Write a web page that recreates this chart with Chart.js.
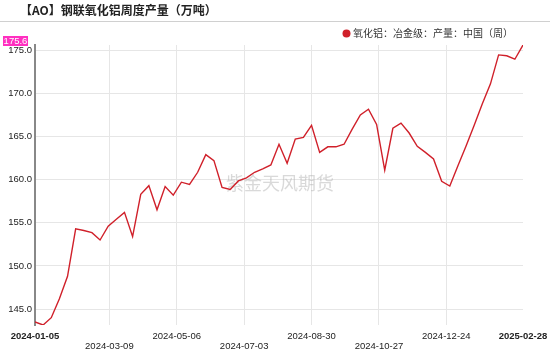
<!DOCTYPE html>
<html>
<head>
<meta charset="utf-8">
<script src="https://cdn.jsdelivr.net/npm/chart.js@4.4.1/dist/chart.umd.min.js"></script>
<style>
  html, body { margin: 0; padding: 0; background: #fff; }
  #wrap { width: 550px; height: 352px; position: relative; }
</style>
</head>
<body>
<div id="wrap"><canvas id="myChart"></canvas></div>
<script>
// weekly dates
var dates = [
    '2024-01-05', '2024-01-12', '2024-01-19', '2024-01-26', '2024-02-02', '2024-02-09', '2024-02-16', '2024-02-23',
    '2024-03-01', '2024-03-08', '2024-03-15', '2024-03-22', '2024-03-29', '2024-04-05', '2024-04-12', '2024-04-19',
    '2024-04-26', '2024-05-03', '2024-05-10', '2024-05-17', '2024-05-24', '2024-05-31', '2024-06-07', '2024-06-14',
    '2024-06-21', '2024-06-28', '2024-07-05', '2024-07-12', '2024-07-19', '2024-07-26', '2024-08-02', '2024-08-09',
    '2024-08-16', '2024-08-23', '2024-08-30', '2024-09-06', '2024-09-13', '2024-09-20', '2024-09-27', '2024-10-04',
    '2024-10-11', '2024-10-18', '2024-10-25', '2024-11-01', '2024-11-08', '2024-11-15', '2024-11-22', '2024-11-29',
    '2024-12-06', '2024-12-13', '2024-12-20', '2024-12-27', '2025-01-03', '2025-01-10', '2025-01-17', '2025-01-24',
    '2025-01-31', '2025-02-07', '2025-02-14', '2025-02-21', '2025-02-28'
];
// 产量 (万吨)
var values = [
    143.5, 143.15, 144.0, 146.2, 148.8, 154.3, 154.1, 153.85,
    153.0, 154.6, 155.4, 156.2, 153.4, 158.3, 159.3, 156.5,
    159.2, 158.2, 159.7, 159.45, 160.85, 162.9, 162.2, 159.1,
    158.85, 159.85, 160.2, 160.85, 161.25, 161.7, 164.1, 161.9,
    164.7, 164.9, 166.3, 163.15, 163.8, 163.8, 164.1, 165.85,
    167.5, 168.15, 166.4, 161.1, 165.95, 166.55, 165.4, 163.85,
    163.15, 162.4, 159.8, 159.25, 161.6, 163.9, 166.3, 168.8,
    171.1, 174.45, 174.35, 173.95, 175.6
];
var xTickLabels = ['2024-01-05', '2024-03-09', '2024-05-06', '2024-07-03', '2024-08-30', '2024-10-27', '2024-12-24', '2025-02-28'];
var yTicks = [145, 150, 155, 160, 165, 170, 175];

var title = '【AO】钢联氧化铝周度产量（万吨）';
var seriesName = '氧化铝：冶金级：产量：中国（周）';
var lineColor = '#d0202a';

function dayOf(s) {
    return (Date.parse(s) - Date.parse(dates[0])) / 86400000;
}

var points = dates.map(function(d, i) { return { x: dayOf(d), y: values[i] }; });
var xTickDays = xTickLabels.map(dayOf);
var lastVal = values[values.length - 1];

var extras = {
    id: 'extras',
    beforeDatasetsDraw: function(chart) {
        var c = chart.ctx;
        c.save();
        c.fillStyle = 'rgba(170,170,170,0.45)';
        c.font = '18px "Noto Sans CJK SC"';
        c.textAlign = 'center';
        c.textBaseline = 'middle';
        c.fillText('紫金天风期货', 280, 183);
        c.restore();
    },
    afterDraw: function(chart) {
        var c = chart.ctx;
        c.save();
        // title
        c.fillStyle = '#222';
        c.font = 'bold 12px "Noto Sans CJK SC"';
        c.textBaseline = 'middle';
        c.textAlign = 'left';
        c.fillText(title, 20, 10);
        c.strokeStyle = '#d0d0d0';
        c.lineWidth = 1;
        c.beginPath();
        c.moveTo(0, 21.5);
        c.lineTo(550, 21.5);
        c.stroke();
        // legend
        c.fillStyle = lineColor;
        c.beginPath();
        c.arc(346.5, 33.5, 4, 0, Math.PI * 2);
        c.fill();
        c.fillStyle = '#333';
        c.font = '10px "Noto Sans CJK SC"';
        c.fillText(seriesName, 353, 33.5);
        // last value tag
        var y = chart.scales.y.getPixelForValue(lastVal) - 4;
        c.fillStyle = '#ff2fc0';
        c.fillRect(3, y - 5, 25, 10);
        c.fillStyle = '#fff';
        c.font = '9.5px "Liberation Sans"';
        c.textAlign = 'center';
        c.fillText(lastVal.toFixed(1), 15.5, y + 0.5);
        c.restore();
    }
};

var ctx = document.getElementById('myChart').getContext('2d');
var myChart = new Chart(ctx, {
    type: 'line',
    data: {
        datasets: [{
            label: seriesName,
            data: points,
            borderColor: lineColor,
            borderWidth: 1.4,
            pointRadius: 0,
            tension: 0,
            fill: false
        }]
    },
    options: {
        responsive: true,
        maintainAspectRatio: false,
        animation: false,
        layout: { padding: { top: 45, right: 27, left: 0, bottom: 0 } },
        plugins: {
            legend: { display: false },
            tooltip: { enabled: false }
        },
        scales: {
            x: {
                type: 'linear',
                min: 0,
                max: dayOf(dates[dates.length - 1]),
                afterBuildTicks: function(scale) {
                    scale.ticks = xTickDays.map(function(v) { return { value: v }; });
                },
                afterFit: function(scale) {
                    scale.height = 27;
                    scale.paddingLeft = 0;
                    scale.paddingRight = 0;
                },
                border: { display: false },
                grid: {
                    drawTicks: false,
                    color: function(c) {
                        return (c.index === 0 || c.index === xTickDays.length - 1) ? 'rgba(0,0,0,0)' : '#e6e6e6';
                    }
                },
                ticks: {
                    autoSkip: false,
                    maxRotation: 0,
                    minRotation: 0,
                    padding: 6,
                    color: '#222',
                    font: function(c) {
                        var last = c.index === 0 || c.index === xTickDays.length - 1;
                        return { family: '"Liberation Sans"', size: 9.5, weight: last ? 'bold' : 'normal', lineHeight: 1.05 };
                    },
                    callback: function(v, i) {
                        var s = xTickLabels[i];
                        return (i % 2 === 1 && i !== xTickLabels.length - 1) ? ['', s] : s;
                    }
                }
            },
            y: {
                min: Math.min.apply(null, values),
                max: Math.max.apply(null, values),
                afterBuildTicks: function(scale) {
                    scale.ticks = yTicks.map(function(v) { return { value: v }; });
                },
                afterFit: function(scale) {
                    scale.width = 35;
                },
                border: { display: true, color: '#888', width: 2 },
                grid: { drawTicks: false, color: '#e6e6e6' },
                ticks: {
                    padding: 3,
                    color: '#222',
                    font: { family: '"Liberation Sans"', size: 9.5 },
                    callback: function(v) { return v.toFixed(1); }
                }
            }
        }
    },
    plugins: [extras]
});
</script>
</body>
</html>
